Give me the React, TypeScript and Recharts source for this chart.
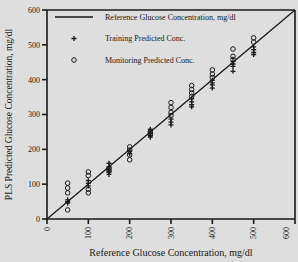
import React from 'react';
import { ComposedChart, Scatter, XAxis, YAxis, ReferenceLine } from 'recharts';

// reference concentrations (mg/dl) of each sample group
const groups = [50, 100, 150, 200, 250, 300, 350, 400, 450, 500];

// predicted values, one list per group
const trainingPred = [
  [55, 50, 46],
  [110, 102, 95],
  [160, 150, 143, 135, 128],
  [195, 188],
  [258, 252, 246, 240, 235],
  [287, 278, 270],
  [345, 336, 328, 322],
  [398, 391, 385, 376],
  [452, 445, 438, 424],
  [494, 486, 478, 472],
];
const monitoringPred = [
  [103, 89, 75, 26],
  [135, 125, 85, 75],
  [145, 138],
  [207, 198, 184, 170],
  [250, 242],
  [334, 320, 306, 297],
  [383, 372, 362, 352],
  [428, 416, 406],
  [488, 467, 458],
  [520, 508],
];

const ticks = [0, 100, 200, 300, 400, 500, 600];
const legendItems = ['Reference Glucose Concentration, mg/dl', 'Training Predicted Conc.', 'Monitoring Predicted Conc.'];

const training = groups.flatMap((g, i) => trainingPred[i].map((y) => ({ x: g, y })));
const monitoring = groups.flatMap((g, i) => monitoringPred[i].map((y) => ({ x: g, y })));

const ink = '#1a1a1a';
const font = '"Liberation Serif", "DejaVu Serif", serif';

const Plus = ({ cx, cy }: any) => (
  <path d={`M${cx - 2.5},${cy}H${cx + 2.5}M${cx},${cy - 2.5}V${cy + 2.5}`} stroke={ink} strokeWidth={1.3} />
);
const Ring = ({ cx, cy }: any) => <circle cx={cx} cy={cy} r={2.3} fill="none" stroke={ink} strokeWidth={1} />;

const XTick = ({ x, y, payload }: any) => (
  <text x={x} y={y} transform={`rotate(-90 ${x} ${y})`} textAnchor="end" dominantBaseline="central"
    fontSize={8} fontFamily={font} fill={ink}>
    {payload.value}
  </text>
);

// legend drawn as an overlay so it does not take room from the plot
const LegendBox = () => (
  <svg width={200} height={62} style={{ position: 'absolute', left: 55, top: 8, overflow: 'visible' }}>
    <line x1={0} y1={9} x2={38} y2={9} stroke={ink} strokeWidth={1.3} />
    <Plus cx={19} cy={30.5} />
    <Ring cx={19} cy={52} />
    {legendItems.map((t, i) => (
      <text key={t} x={50} y={9 + i * 21.5} dominantBaseline="central" fontSize={8} fontFamily={font} fill={ink}>{t}</text>
    ))}
  </svg>
);

export default function App() {
  return (
    <div style={{ position: 'absolute', left: 0, top: 0, width: 298, height: 262, background: '#dedede', fontFamily: font }}>
      <ComposedChart width={298} height={262} margin={{ top: 10, right: 3, bottom: 0, left: 10 }}>
        <XAxis type="number" dataKey="x" domain={[0, 600]} ticks={ticks} height={43} tick={<XTick />}
          stroke={ink} strokeWidth={1.6} tickSize={5} tickMargin={3}
          label={{ value: 'Reference Glucose Concentration, mg/dl', position: 'insideBottom', offset: 6, fontSize: 10, fill: ink, fontFamily: font }} />
        <YAxis type="number" dataKey="y" domain={[0, 600]} ticks={ticks} width={37}
          stroke={ink} strokeWidth={1.6} tickSize={5} tickMargin={2}
          tick={{ fontSize: 8, fill: ink, fontFamily: font }}
          label={{ value: 'PLS Predicted Glucose Concentration, mg/dl', angle: -90, position: 'insideLeft', offset: -1, fontSize: 9.5, fill: ink, fontFamily: font, style: { textAnchor: 'middle' } }} />
        <ReferenceLine y={600} stroke={ink} strokeWidth={1.6} />
        <ReferenceLine x={600} stroke={ink} strokeWidth={1.6} />
        <ReferenceLine segment={[{ x: 0, y: 0 }, { x: 600, y: 600 }]} stroke={ink} strokeWidth={1.3} />
        <Scatter data={monitoring} shape={<Ring />} isAnimationActive={false} />
        <Scatter data={training} shape={<Plus />} isAnimationActive={false} />
      </ComposedChart>
      <LegendBox />
    </div>
  );
}
